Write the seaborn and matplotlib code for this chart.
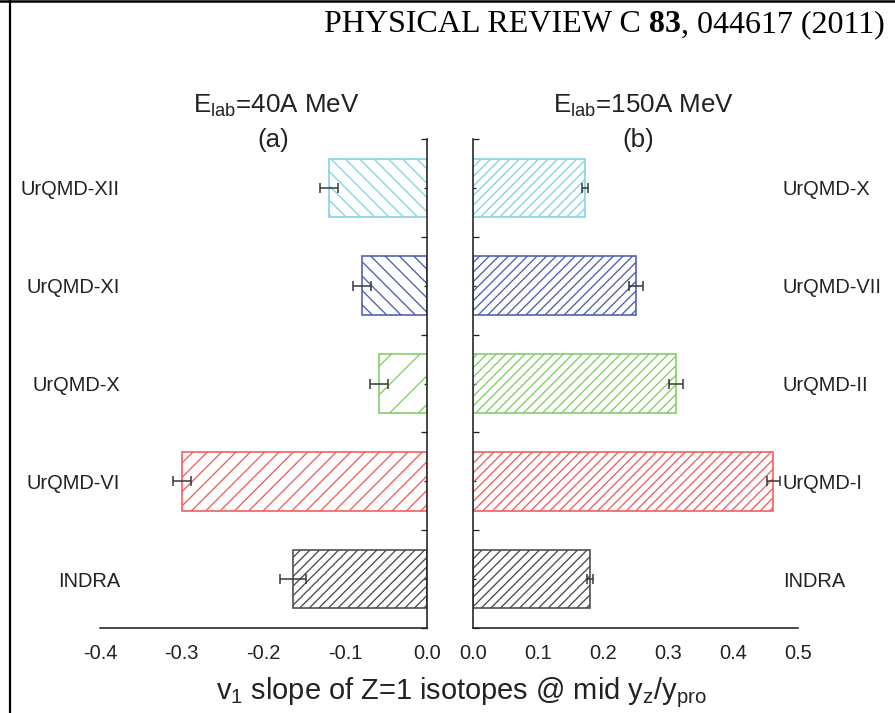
import matplotlib
matplotlib.use("Agg")
import matplotlib.pyplot as plt
from matplotlib.ticker import MultipleLocator, FixedLocator, FormatStrFormatter
import seaborn as sns
import pandas as pd

# ---- data -------------------------------------------------------------
labels_40 = ["UrQMD-XII", "UrQMD-XI", "UrQMD-X", "UrQMD-VI", "INDRA"]
slope_40 = [-0.120, -0.080, -0.059, -0.300, -0.164]
err_40 = [0.011, 0.011, 0.011, 0.011, 0.016]
hatch_40 = ["\\\\", "\\\\", "/", "//", "///"]

labels_150 = ["UrQMD-X", "UrQMD-VII", "UrQMD-II", "UrQMD-I", "INDRA"]
slope_150 = [0.172, 0.251, 0.312, 0.462, 0.180]
err_150 = [0.005, 0.011, 0.011, 0.010, 0.005]
hatch_150 = ["///", "///", "///", "///", "///"]

bar_colors = ["#7fd3e2", "#4b5cb2", "#80cc62", "#f25b5b", "#4a4a4a"]

xticks_40 = [-0.4, -0.3, -0.2, -0.1, 0.0]
xticks_150 = [0.0, 0.1, 0.2, 0.3, 0.4, 0.5]

# ---- canvas -----------------------------------------------------------
W, H, DPI = 895, 713, 86


def pt(px):
    """pixel size -> points at the figure dpi"""
    return px * 72.0 / DPI


sns.set_style("white")
plt.rcParams["font.family"] = ["Liberation Sans", "DejaVu Sans"]
plt.rcParams["mathtext.default"] = "regular"
plt.rcParams["axes.unicode_minus"] = False
plt.rcParams["hatch.linewidth"] = pt(1.3)

fig = plt.figure(figsize=(W / DPI, H / DPI), dpi=DPI)
fig.patch.set_facecolor("white")


def fx(px):
    return px / W


def fy(py):
    return 1 - py / H


ax_l = fig.add_axes([fx(100), fy(628), fx(427) - fx(100), fy(139) - fy(628)])
ax_r = fig.add_axes([fx(473), fy(628), fx(798) - fx(473), fy(139) - fy(628)])

ink = "#222222"
panels = [
    (ax_l, labels_40, slope_40, err_40, hatch_40, (-0.4, 0.0), xticks_40, 0.02),
    (ax_r, labels_150, slope_150, err_150, hatch_150, (0.0, 0.5), xticks_150, 0.05),
]

for ax, labs, vals, errs, hatches, xlim, xt, minor in panels:
    df = pd.DataFrame({"model": labs, "slope": vals})
    sns.barplot(data=df, x="slope", y="model", hue="model", order=labs,
                hue_order=labs, palette=bar_colors, fill=False, width=0.6,
                errorbar=None, legend=False, linewidth=pt(1.6), ax=ax)
    for patch, h, c in zip(ax.patches, hatches, bar_colors):
        patch.set_hatch(h)
        patch.set_edgecolor(c)
        patch.set_facecolor("none")
    ax.errorbar(vals, range(len(labs)), xerr=errs, fmt="none",
                ecolor="#333333", elinewidth=pt(1.5), capsize=pt(5),
                capthick=pt(1.5), zorder=5)
    ax.set_xlim(*xlim)
    ax.set_ylim(len(labs) - 0.5, -0.5)
    ax.set_xticks(xt)
    ax.xaxis.set_minor_locator(MultipleLocator(minor))
    ax.xaxis.set_major_formatter(FormatStrFormatter("%.1f"))
    ax.yaxis.set_minor_locator(FixedLocator([i - 0.5 for i in range(len(labs) + 1)]))
    ax.set_xlabel("")
    ax.set_ylabel("")
    ax.tick_params(axis="x", which="major", direction="out", length=pt(8),
                   width=pt(1.3), labelsize=pt(20), pad=pt(8), colors=ink)
    ax.tick_params(axis="x", which="minor", direction="out", length=pt(4),
                   width=pt(1.3), colors=ink)
    for s in ax.spines.values():
        s.set_linewidth(pt(1.6))
        s.set_color(ink)
    ax.spines["top"].set_visible(False)

# left panel: axis line at x = 0 on the right, names on the far left
ax_l.spines["left"].set_visible(False)
ax_l.tick_params(axis="y", which="both", left=False, right=True,
                 labelleft=True, labelright=False, direction="in",
                 labelsize=pt(20), pad=pt(-20), colors=ink, width=pt(1.3))
ax_l.tick_params(axis="y", which="major", length=pt(3))
ax_l.tick_params(axis="y", which="minor", length=pt(6))

# right panel: axis line at x = 0 on the left, names on the far right
ax_r.spines["right"].set_visible(False)
ax_r.tick_params(axis="y", which="both", left=True, right=False,
                 labelleft=False, labelright=True, direction="in",
                 labelsize=pt(20), pad=pt(-15), colors=ink, width=pt(1.3))
ax_r.tick_params(axis="y", which="major", length=pt(3))
ax_r.tick_params(axis="y", which="minor", length=pt(6))
for t in ax_r.get_yticklabels():
    t.set_horizontalalignment("left")

# panel titles
fig.text(fx(276), fy(113), "E$_{lab}$=40A MeV", ha="center", va="baseline",
         fontsize=pt(26), color=ink)
fig.text(fx(273), fy(147), "(a)", ha="center", va="baseline",
         fontsize=pt(26), color=ink)
fig.text(fx(644), fy(113), "E$_{lab}$=150A MeV", ha="center", va="baseline",
         fontsize=pt(26), color=ink)
fig.text(fx(638), fy(147), "(b)", ha="center", va="baseline",
         fontsize=pt(26), color=ink)

# shared x-axis title
fig.text(fx(461), fy(699), "v$_1$ slope of Z=1 isotopes @ mid y$_z$/y$_{pro}$",
         ha="center", va="baseline", fontsize=pt(29), color=ink)

# journal header, right aligned, with bold volume number
serif = ["Liberation Serif", "DejaVu Serif"]
fig.canvas.draw()
renderer = fig.canvas.get_renderer()
x_cur = fx(885)
for txt, weight in [(", 044617 (2011)", "normal"), ("83", "bold"),
                    ("PHYSICAL REVIEW C ", "normal")]:
    t = fig.text(x_cur, fy(32), txt, ha="right", va="baseline",
                 fontsize=pt(32), family=serif, fontweight=weight,
                 color="black")
    bb = t.get_window_extent(renderer)
    x_cur = bb.x0 / W

# page frame lines
fig.add_artist(plt.Line2D([fx(10), fx(10)], [0, 1], color="black", lw=pt(2.2)))
fig.add_artist(plt.Line2D([0, 1], [fy(1), fy(1)], color="black", lw=pt(2.5)))

fig.savefig("out.png", dpi=DPI, facecolor="white")
